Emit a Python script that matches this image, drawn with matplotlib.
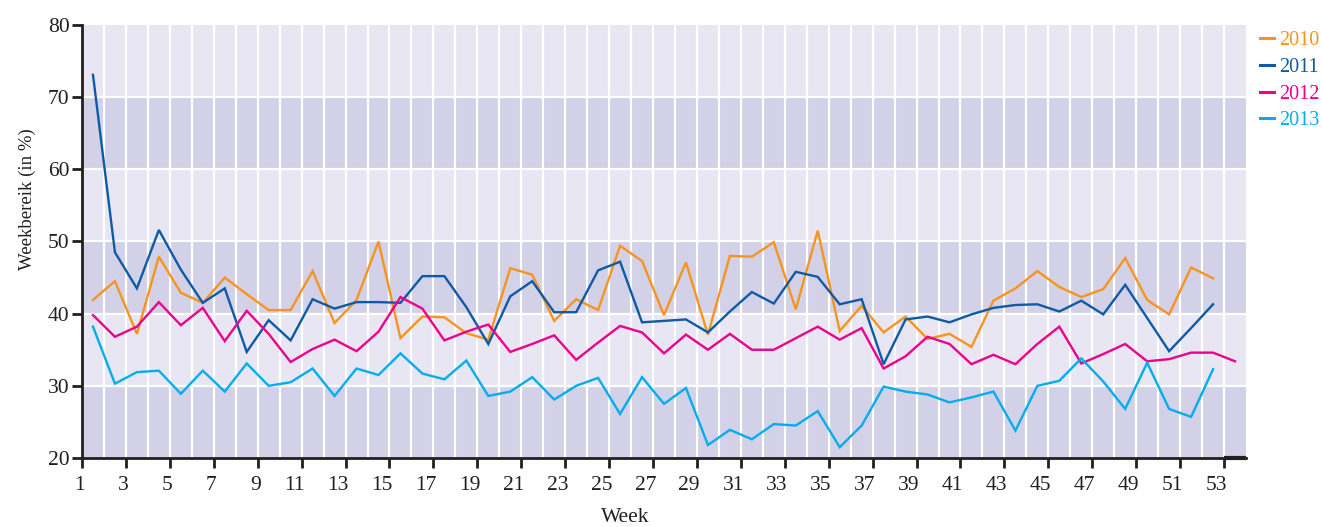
import matplotlib
matplotlib.use("Agg")
import matplotlib.pyplot as plt
import matplotlib.transforms as mtransforms
from matplotlib.lines import Line2D

# ---------------- data ----------------
weeks_52 = list(range(1, 53))
weeks_53 = list(range(1, 54))

y2010 = [41.9, 44.5, 37.2, 47.9, 42.9, 41.5, 45.0, 42.7, 40.5, 40.5,
         45.9, 38.7, 41.9, 50.0, 36.6, 39.6, 39.5, 37.3, 36.4, 46.3,
         45.4, 39.0, 42.0, 40.5, 49.4, 47.3, 39.8, 47.1, 37.1, 48.0,
         47.9, 49.9, 40.6, 51.5, 37.6, 41.1, 37.4, 39.6, 36.5, 37.2,
         35.4, 41.8, 43.5, 45.9, 43.7, 42.3, 43.4, 47.7, 41.9, 39.9,
         46.4, 44.9]
y2011 = [73.1, 48.5, 43.5, 51.6, 46.1, 41.5, 43.5, 34.7, 39.1, 36.3,
         42.0, 40.7, 41.6, 41.6, 41.5, 45.2, 45.2, 40.9, 35.8, 42.4,
         44.5, 40.2, 40.2, 46.0, 47.2, 38.8, 39.0, 39.2, 37.4, 40.3,
         43.0, 41.4, 45.8, 45.1, 41.3, 42.0, 33.0, 39.2, 39.6, 38.8,
         39.9, 40.8, 41.2, 41.3, 40.3, 41.8, 39.9, 44.0, 39.4, 34.8,
         38.0, 41.3]
y2012 = [39.8, 36.8, 38.2, 41.6, 38.4, 40.8, 36.2, 40.4, 37.2, 33.3,
         35.1, 36.4, 34.8, 37.5, 42.3, 40.7, 36.3, 37.5, 38.5, 34.7,
         35.8, 37.0, 33.6, 36.0, 38.3, 37.4, 34.5, 37.1, 35.0, 37.2,
         35.0, 35.0, 36.6, 38.2, 36.4, 38.0, 32.4, 34.1, 36.8, 35.8,
         33.0, 34.3, 33.0, 35.8, 38.2, 33.1, 34.4, 35.8, 33.4, 33.7,
         34.6, 34.6, 33.4]
y2013 = [38.2, 30.3, 31.9, 32.1, 28.9, 32.1, 29.2, 33.1, 30.0, 30.5,
         32.4, 28.6, 32.4, 31.5, 34.5, 31.7, 30.9, 33.5, 28.6, 29.2,
         31.2, 28.1, 30.0, 31.1, 26.1, 31.2, 27.5, 29.7, 21.8, 23.9,
         22.6, 24.7, 24.5, 26.5, 21.5, 24.5, 29.9, 29.2, 28.8, 27.7,
         28.4, 29.2, 23.8, 30.0, 30.7, 33.8, 30.6, 26.8, 33.2, 26.8,
         25.7, 32.3]

series_labels = ["2010", "2011", "2012", "2013"]
series_colors = ["#F7941D", "#0D5AA7", "#EC008C", "#00AEEF"]
series_weeks = [weeks_52, weeks_52, weeks_53, weeks_52]
series_values = [y2010, y2011, y2012, y2013]

x_ticks = list(range(1, 54, 2))
y_ticks = [20, 30, 40, 50, 60, 70, 80]

# ---------------- style ----------------
plt.rcParams['font.family'] = ['Liberation Serif', 'DejaVu Serif']
FS_TICK = 15.5
FS_XLAB = 15.5
FS_YLAB = 13.5
FS_LEG = 14.5
INK = "#231F20"
LIGHT = "#E8E6F2"
DARK = "#D3D1E7"

fig = plt.figure(figsize=(13.22, 5.27), dpi=100)
ax = fig.add_axes([82/1322, 1-458/527, (1246-82)/1322, (458-25)/527])

ax.set_xlim(1, 54)
ax.set_ylim(20, 80)
ax.set_facecolor(LIGHT)
for lo in (20, 40, 60):
    ax.axhspan(lo, lo + 10, color=DARK, zorder=0, lw=0)

# white grid lines
for v in range(2, 54):
    ax.axvline(v, color="white", lw=1.6, zorder=1)
for h in (30, 40, 50, 60, 70):
    ax.axhline(h, color="white", lw=1.6, zorder=1)

# series: each week's value is drawn at the centre of its week band
for lab, col, wk, vals in zip(series_labels, series_colors, series_weeks, series_values):
    ax.plot([w + 0.5 for w in wk], vals, color=col, lw=1.7, zorder=3,
            solid_joinstyle="miter", label=lab)

# spines
for s in ("top", "right"):
    ax.spines[s].set_visible(False)
for s in ("left", "bottom"):
    ax.spines[s].set_linewidth(2.0)
    ax.spines[s].set_color(INK)
    ax.spines[s].set_zorder(5)
# thick end stub of the x-axis
ax.plot([53, 54], [20, 20], color=INK, lw=3.0, clip_on=False, zorder=6,
        solid_capstyle="butt")

ax.set_xticks(x_ticks)
ax.set_xticklabels([str(t) for t in x_ticks])
ax.set_yticks(y_ticks)
ax.set_yticklabels([str(t) for t in y_ticks])
ax.tick_params(axis="both", direction="out", length=7, width=2.0,
               color=INK, labelsize=FS_TICK, labelcolor=INK)
ax.tick_params(axis="x", pad=6)
ax.tick_params(axis="y", pad=2)

# x tick labels right-aligned slightly right of the tick
offset = mtransforms.ScaledTranslation(3/100, 0, fig.dpi_scale_trans)
for lbl in ax.get_xticklabels():
    lbl.set_horizontalalignment("right")
    lbl.set_transform(lbl.get_transform() + offset)

ax.set_xlabel("Week", fontsize=FS_XLAB, color=INK)
ax.xaxis.set_label_coords((625-82)/1164, -(508-458)/433)
ax.set_ylabel("Weekbereik (in %)", fontsize=FS_YLAB, color=INK)
ax.yaxis.set_label_coords((36-82)/1164, (458-199)/433)

handles = [Line2D([0], [0], color=c, lw=2.2) for c in series_colors]
leg = fig.legend(handles, series_labels, loc="upper left",
                 bbox_to_anchor=(1260/1322, 1-31/527), frameon=False,
                 fontsize=FS_LEG, handlelength=0.7, handletextpad=0.25,
                 labelspacing=0.38, borderpad=0, borderaxespad=0,
                 labelcolor="linecolor")

fig.savefig("out.png", dpi=100)
